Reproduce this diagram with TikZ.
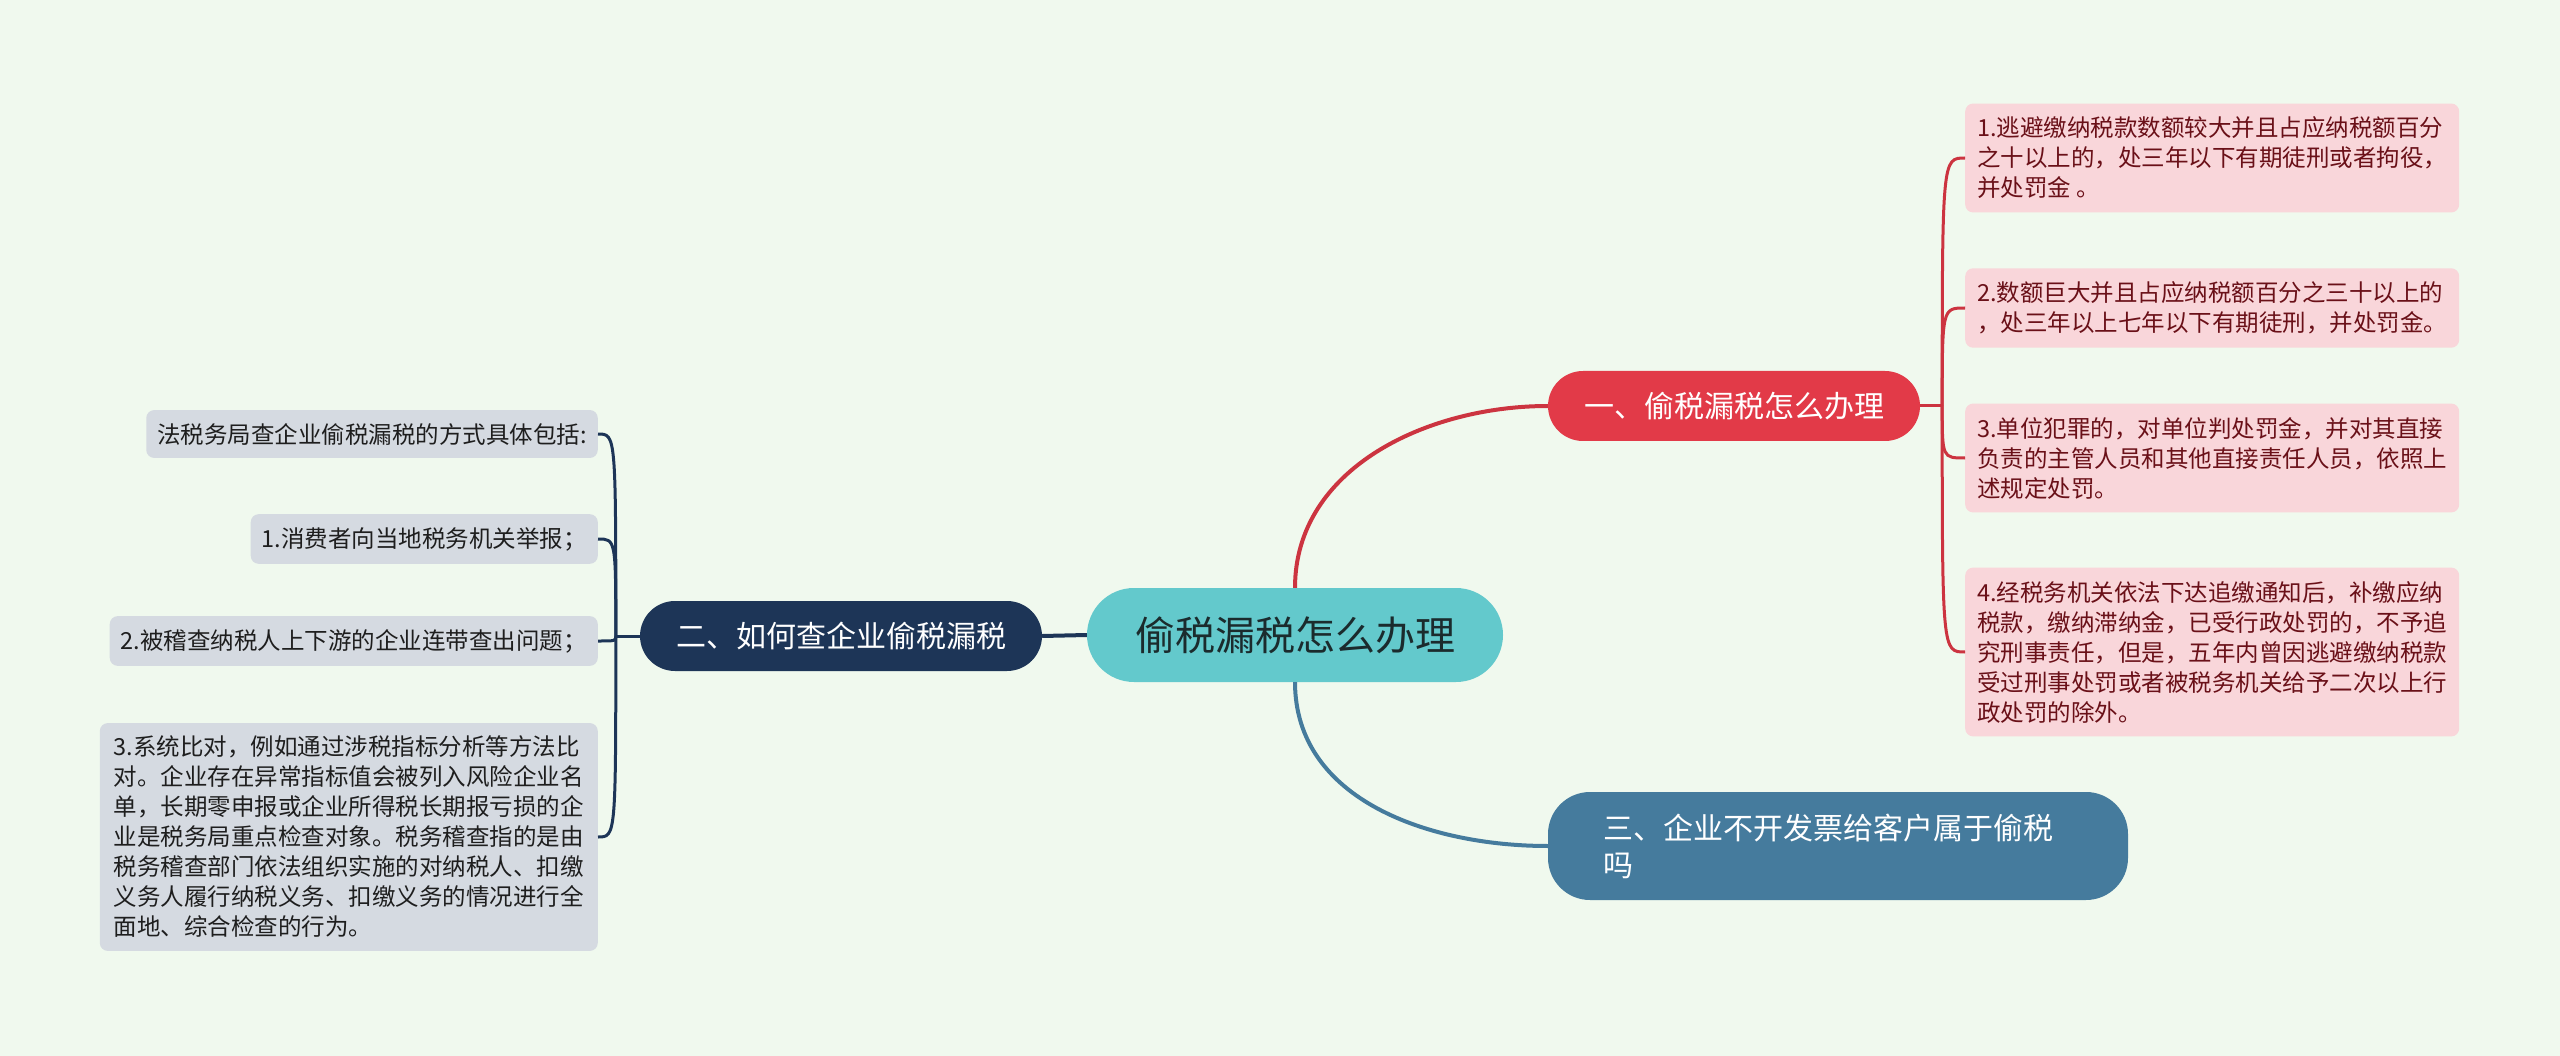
\documentclass[tikz,border=0pt]{standalone}
\usepackage{fontspec}
\setmainfont{Noto Sans CJK SC}
\usepackage{tikz}
\usetikzlibrary{positioning,calc}
\definecolor{bgmint}{HTML}{F0F9EE}
\definecolor{rootteal}{HTML}{63C9CC}
\definecolor{roottext}{HTML}{1B2B2D}
\definecolor{topicred}{HTML}{E23A48}
\definecolor{linkred}{HTML}{CC3440}
\definecolor{topicnavy}{HTML}{1D3557}
\definecolor{topicsteel}{HTML}{457B9D}
\definecolor{leafpink}{HTML}{F9D6DA}
\definecolor{leafpinktext}{HTML}{6A1018}
\definecolor{leafgrey}{HTML}{D5DAE1}
\definecolor{leafgreytext}{HTML}{1E1E1E}

\begin{document}
\begin{tikzpicture}[x=1pt, y=-1pt,
    rootbox/.style={rectangle, fill=rootteal, rounded corners=47pt,
        minimum width=416pt, minimum height=94pt, text=roottext,
        font=\fontsize{40}{48}\selectfont},
    topic/.style={rectangle, rounded corners=35pt, minimum height=70pt,
        text=white, font=\fontsize{30}{37}\selectfont, inner xsep=35pt},
    rleaf/.style={rectangle, fill=leafpink, text=leafpinktext, rounded corners=8pt,
        align=left, anchor=west, minimum width=493pt, inner xsep=12pt, inner ysep=13.5pt,
        font=\fontsize{23.5}{30}\selectfont},
    lleaf/.style={rectangle, fill=leafgrey, text=leafgreytext, rounded corners=8pt,
        align=left, anchor=east, inner xsep=11pt, inner ysep=13pt,
        font=\fontsize{23.5}{30}\selectfont},
    link/.style={line width=4pt},
    sublink/.style={line width=3pt}
]
    \fill[bgmint] (0,0) rectangle (2560,1056);
    \useasboundingbox (0,0) rectangle (2560,1056);

    \node[rootbox] (root) at (1295,635) {偷税漏税怎么办理};
    \node[topic, fill=topicred, minimum width=372pt] (b1) at (1734,406) {一、偷税漏税怎么办理};
    \node[topic, fill=topicnavy, minimum width=402pt] (b2) at (841,636) {二、如何查企业偷税漏税};
    \node[topic, fill=topicsteel, rounded corners=42pt, minimum height=108pt,
        align=left, text width=470pt, inner xsep=55pt] (b3) at (1838,846)
        {三、企业不开发票给客户属于偷税\\吗};

    \node[rleaf] (l1) at (1965,158) {1.逃避缴纳税款数额较大并且占应纳税额百分\\之十以上的，处三年以下有期徒刑或者拘役，\\并处罚金 。};
    \node[rleaf] (l2) at (1965,308) {2.数额巨大并且占应纳税额百分之三十以上的\\，处三年以上七年以下有期徒刑，并处罚金。};
    \node[rleaf] (l3) at (1965,458) {3.单位犯罪的，对单位判处罚金，并对其直接\\负责的主管人员和其他直接责任人员，依照上\\述规定处罚。};
    \node[rleaf] (l4) at (1965,652) {4.经税务机关依法下达追缴通知后，补缴应纳\\税款，缴纳滞纳金，已受行政处罚的，不予追\\究刑事责任，但是，五年内曾因逃避缴纳税款\\受过刑事处罚或者被税务机关给予二次以上行\\政处罚的除外。};

    \node[lleaf] (ll0) at (598,434) {法税务局查企业偷税漏税的方式具体包括:};
    \node[lleaf] (ll1) at (598,539) {1.消费者向当地税务机关举报；};
    \node[lleaf] (ll2) at (598,641) {2.被稽查纳税人上下游的企业连带查出问题；};
    \node[lleaf, minimum width=495pt, inner xsep=14pt] (ll3) at (598,837) {3.系统比对，例如通过涉税指标分析等方法比\\对。企业存在异常指标值会被列入风险企业名\\单，长期零申报或企业所得税长期报亏损的企\\业是税务局重点检查对象。税务稽查指的是由\\税务稽查部门依法组织实施的对纳税人、扣缴\\义务人履行纳税义务、扣缴义务的情况进行全\\面地、综合检查的行为。};

    \draw[link, linkred] (root.north) .. controls ($(root.north)+(0,-120)$) and ($(b1.west)+(-120,0)$) .. (b1.west);
    \draw[link, topicsteel] (root.south) .. controls ($(root.south)+(0,118)$) and ($(b3.west)+(-118,0)$) .. (b3.west);
    \draw[link, topicnavy] (root.west) -- (b2.east);

    \draw[sublink, linkred] (b1.east) -- ++(22,0) coordinate (j1);
    \foreach \leaf in {l1,l2,l3,l4}
        \draw[sublink, linkred] (j1) .. controls (j1 |- \leaf.west) .. (\leaf.west);

    \draw[sublink, topicnavy] (b2.west) -- ++(-24,0) coordinate (j2);
    \foreach \leaf in {ll0,ll1,ll2,ll3}
        \draw[sublink, topicnavy] (j2) .. controls (j2 |- \leaf.east) .. (\leaf.east);
\end{tikzpicture}
\end{document}
